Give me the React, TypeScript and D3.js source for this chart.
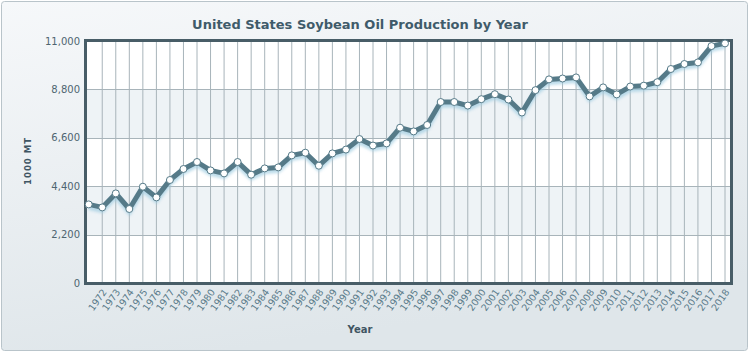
import React, { useEffect, useRef } from "react";
import * as d3 from "d3";

const years = d3.range(1971, 2019);
// 1000 MT
const production = [
  3573, 3436, 4073, 3364, 4377, 3891, 4682, 5182, 5500, 5118,
  4982, 5500, 4923, 5209, 5255, 5800, 5923, 5332, 5891, 6065,
  6545, 6248, 6345, 7059, 6891, 7182, 8227, 8227, 8065, 8355,
  8582, 8340, 7750, 8765, 9255, 9295, 9345, 8482, 8891, 8573,
  8930, 8970, 9127, 9727, 9955, 10027, 10770, 10891,
];
const yTicks = [0, 2200, 4400, 6600, 8800, 11000];
const xTickLabels = years.filter((y) => y >= 1972);

const W = 750;
const H = 353;

export default function App() {
  const ref = useRef<SVGSVGElement>(null);

  useEffect(() => {
    document.body.style.margin = "0";
    const svg = d3.select(ref.current);
    svg.selectAll("*").remove();

    const plot = { left: 86, right: 731, top: 41, bottom: 283 };
    const font = "DejaVu Sans, Verdana, sans-serif";

    const defs = svg.append("defs");
    const bg = defs
      .append("linearGradient")
      .attr("id", "bg")
      .attr("x1", 0)
      .attr("y1", 0)
      .attr("x2", 0.3)
      .attr("y2", 1);
    bg.append("stop").attr("offset", "0%").attr("stop-color", "#f6f8fa");
    bg.append("stop").attr("offset", "100%").attr("stop-color", "#dfe6ea");
    defs
      .append("filter")
      .attr("id", "blur")
      .append("feGaussianBlur")
      .attr("stdDeviation", 1.5);

    // outer panel
    svg
      .append("rect")
      .attr("x", 1.5)
      .attr("y", 1.5)
      .attr("width", W - 4)
      .attr("height", H - 4)
      .attr("rx", 3)
      .attr("fill", "url(#bg)")
      .attr("stroke", "#b9c4ca");

    const x = d3
      .scalePoint<number>()
      .domain(years)
      .range([plot.left + 2.7, plot.right - 6]);
    const y = d3
      .scaleLinear()
      .domain([0, 11000])
      .range([plot.bottom, plot.top]);

    // alternating bands
    svg
      .append("g")
      .selectAll("rect")
      .data(yTicks.slice(0, -1))
      .join("rect")
      .attr("x", plot.left)
      .attr("width", plot.right - plot.left)
      .attr("y", (d, i) => y(yTicks[i + 1]))
      .attr("height", (d, i) => y(d) - y(yTicks[i + 1]))
      .attr("fill", (d, i) => (i % 2 === 1 ? "#eef3f6" : "#ffffff"));

    // grid
    svg
      .append("g")
      .selectAll("line")
      .data(years.slice(1))
      .join("line")
      .attr("x1", (d) => x(d)!)
      .attr("x2", (d) => x(d)!)
      .attr("y1", plot.top)
      .attr("y2", plot.bottom)
      .attr("stroke", "#a8b4ba")
      .attr("stroke-width", 1);
    svg
      .append("g")
      .selectAll("line")
      .data(yTicks.slice(1, -1))
      .join("line")
      .attr("x1", plot.left)
      .attr("x2", plot.right)
      .attr("y1", (d) => Math.round(y(d)) + 0.5)
      .attr("y2", (d) => Math.round(y(d)) + 0.5)
      .attr("stroke", "#a8b4ba")
      .attr("stroke-width", 1);

    // frame
    svg
      .append("rect")
      .attr("x", plot.left - 0.5)
      .attr("y", plot.top - 0.5)
      .attr("width", plot.right - plot.left + 1)
      .attr("height", plot.bottom - plot.top + 1)
      .attr("fill", "none")
      .attr("stroke", "#485d67")
      .attr("stroke-width", 3);

    // y tick labels
    svg
      .append("g")
      .selectAll("text")
      .data(yTicks)
      .join("text")
      .attr("x", 80)
      .attr("y", (d) => y(d) + 3.5)
      .attr("text-anchor", "end")
      .attr("font-family", font)
      .attr("font-size", 10)
      .attr("fill", "#4e6571")
      .text((d) => d3.format(",")(d));

    // x tick labels
    svg
      .append("g")
      .selectAll("text")
      .data(xTickLabels)
      .join("text")
      .attr(
        "transform",
        (d) => `translate(${x(d)! + 5},${plot.bottom + 9}) rotate(-55)`
      )
      .attr("text-anchor", "end")
      .attr("font-family", font)
      .attr("font-size", 9.5)
      .attr("fill", "#5a7b8a")
      .text((d) => d);

    const line = d3
      .line<number>()
      .x((d, i) => x(years[i])!)
      .y((d) => y(d));

    // glow under the line
    svg
      .append("path")
      .datum(production)
      .attr("d", line)
      .attr("transform", "translate(0,3)")
      .attr("fill", "none")
      .attr("stroke", "#9ccbe0")
      .attr("stroke-width", 5)
      .attr("opacity", 0.7)
      .attr("filter", "url(#blur)");

    svg
      .append("path")
      .datum(production)
      .attr("d", line)
      .attr("fill", "none")
      .attr("stroke", "#557a88")
      .attr("stroke-width", 5)
      .attr("stroke-linejoin", "round");

    svg
      .append("g")
      .selectAll("circle")
      .data(production)
      .join("circle")
      .attr("cx", (d, i) => x(years[i])!)
      .attr("cy", (d) => y(d))
      .attr("r", 3.5)
      .attr("fill", "#ffffff")
      .attr("stroke", "#557a88")
      .attr("stroke-width", 1);

    // title and axis titles
    svg
      .append("text")
      .attr("x", 360)
      .attr("y", 29)
      .attr("text-anchor", "middle")
      .attr("font-family", font)
      .attr("font-weight", "bold")
      .attr("font-size", 13)
      .attr("fill", "#3f5b6a")
      .text("United States Soybean Oil Production by Year");

    svg
      .append("text")
      .attr("transform", `translate(31,161) rotate(-90)`)
      .attr("text-anchor", "middle")
      .attr("font-family", font)
      .attr("font-weight", "bold")
      .attr("font-size", 8.5)
      .attr("letter-spacing", 1)
      .attr("fill", "#3f5563")
      .text("1000 MT");

    svg
      .append("text")
      .attr("x", 360)
      .attr("y", 333)
      .attr("text-anchor", "middle")
      .attr("font-family", font)
      .attr("font-weight", "bold")
      .attr("font-size", 10)
      .attr("fill", "#3f5563")
      .text("Year");
  }, []);

  return <svg ref={ref} width={W} height={H} style={{ display: "block" }} />;
}
